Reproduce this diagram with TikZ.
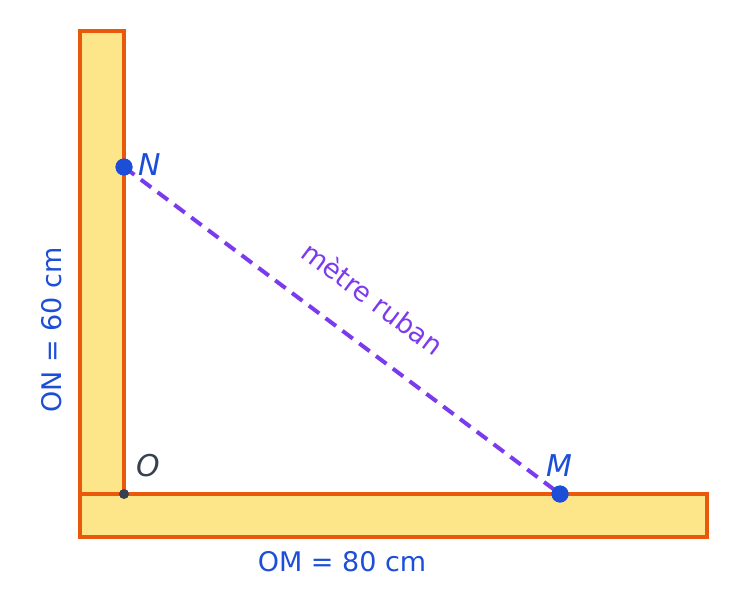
\documentclass[tikz,border=0pt]{standalone}
\usepackage{fontspec}
\setmainfont{DejaVu Sans}
\definecolor{barfill}{HTML}{FDE68A}
\definecolor{barline}{HTML}{EA580C}
\definecolor{ptblue}{HTML}{1D4ED8}
\definecolor{tape}{HTML}{7C3AED}
\definecolor{darkg}{HTML}{374151}
\begin{document}
\begin{tikzpicture}[x=1pt,y=-1pt,
  bar/.style={fill=barfill,draw=barline,line width=3.5pt},
  bigdot/.style={circle,fill=ptblue,inner sep=0pt,minimum size=17pt},
  smalldot/.style={circle,fill=darkg,inner sep=0pt,minimum size=10pt},
  lbl/.style={text=ptblue,font=\fontsize{30}{34}\selectfont\itshape,inner sep=0pt},
  dim/.style={text=ptblue,font=\fontsize{27}{32}\selectfont,inner sep=0pt},
  tapeline/.style={draw=tape,line width=4pt,dash pattern=on 13pt off 8pt}]
\useasboundingbox (0,0) rectangle (738,607);
\draw[bar] (80,31) rectangle (124,494);
\draw[bar] (80,494) rectangle (707,537);
\node[bigdot] (N) at (124,167) {};
\node[bigdot] (M) at (560,494) {};
\node[smalldot] (O) at (124,494) {};
\draw[tapeline] (N.center) -- (M.center);
\node[bigdot] at (N.center) {};
\node[bigdot] at (M.center) {};
\node[lbl,anchor=west] (Nl) at (138,165) {N};
\node[lbl] (Ml) at (559,466) {M};
\node[lbl,text=darkg] (Ol) at (148,466) {O};
\node[text=tape,font=\fontsize{27}{31}\selectfont,inner sep=0pt,rotate=-36.87] (tl) at (373,298) {mètre ruban};
\node[dim,rotate=90] (on) at (52,330) {ON = 60 cm};
\node[dim] (om) at (342,562) {OM = 80 cm};
\end{tikzpicture}
\end{document}
